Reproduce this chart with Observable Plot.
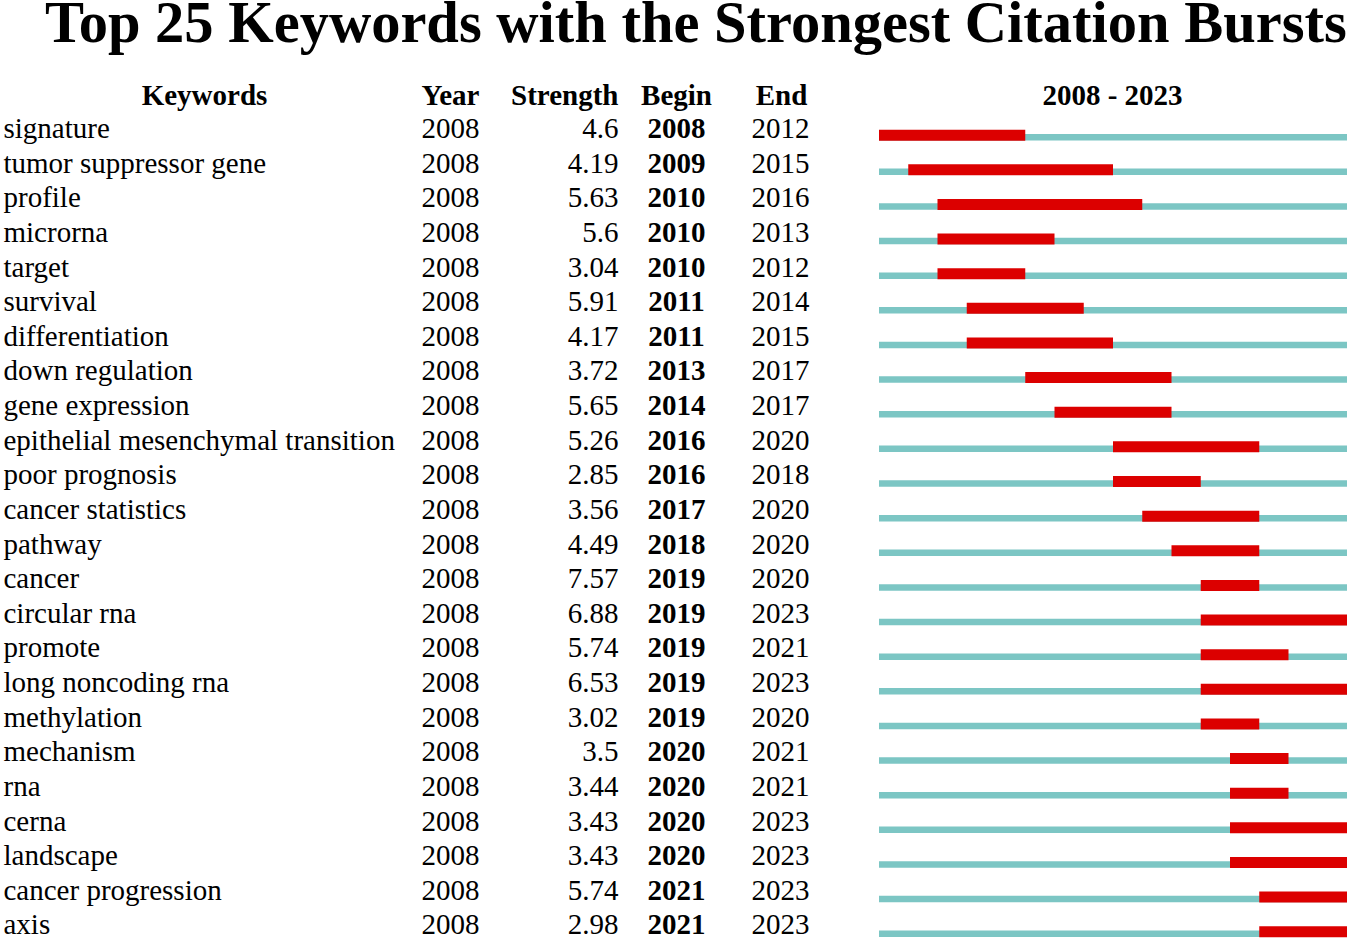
<!DOCTYPE html>
<html>
<head>
<meta charset="utf-8">
<script src="https://cdn.jsdelivr.net/npm/d3@7"></script>
<script src="https://cdn.jsdelivr.net/npm/@observablehq/plot@0.6"></script>
<style>
  html, body { margin: 0; padding: 0; background: #fff; }
  #title {
    font-family: "Liberation Serif", "Times New Roman", serif;
    font-weight: bold;
    font-size: 58.5px;
    line-height: 46px;
    height: 50px;
    padding-left: 45px;
    white-space: nowrap;
    color: #000;
  }
  #chart svg { display: block; }
</style>
</head>
<body>
<div id="title">Top 25 Keywords with the Strongest Citation Bursts</div>
<div id="chart"></div>
<script>
const keywords = ["signature","tumor suppressor gene","profile","microrna","target","survival","differentiation","down regulation","gene expression","epithelial mesenchymal transition","poor prognosis","cancer statistics","pathway","cancer","circular rna","promote","long noncoding rna","methylation","mechanism","rna","cerna","landscape","cancer progression","axis"];
const years = [2008,2008,2008,2008,2008,2008,2008,2008,2008,2008,2008,2008,2008,2008,2008,2008,2008,2008,2008,2008,2008,2008,2008,2008];
const strengths = ["4.6","4.19","5.63","5.6","3.04","5.91","4.17","3.72","5.65","5.26","2.85","3.56","4.49","7.57","6.88","5.74","6.53","3.02","3.5","3.44","3.43","3.43","5.74","2.98"];
const begins = [2008,2009,2010,2010,2010,2011,2011,2013,2014,2016,2016,2017,2018,2019,2019,2019,2019,2019,2020,2020,2020,2020,2021,2021];
const ends = [2012,2015,2016,2013,2012,2014,2015,2017,2017,2020,2018,2020,2020,2020,2023,2021,2023,2020,2021,2021,2023,2023,2023,2023];
const headers = ["Keywords","Year","Strength","Begin","End","2008 - 2023"];
const yearStart = 2008, yearEnd = 2023;

const data = keywords.map((k, i) => ({keyword: k, year: years[i], strength: strengths[i], begin: begins[i], end: ends[i]}));

const teal = "#7cc6c4", red = "#dc0000";
const fs = 29;

const headerMark = (label, dx, anchor) => Plot.text([label], {
  text: d => d, frameAnchor: "top-left", dx, dy: 45, textAnchor: anchor,
  lineAnchor: "middle", fontWeight: "bold", fontSize: fs, fill: "#000"
});

const chart = Plot.plot({
  width: 1350,
  height: 891,
  margin: 0,
  style: {fontFamily: "'Liberation Serif', 'Times New Roman', serif", fontSize: "29px", background: "#fff", color: "#000"},
  x: {domain: [yearStart, yearEnd + 1], range: [879, 1347], axis: null},
  y: {type: "point", domain: keywords, range: [78.2, 874.7], padding: 0, round: false, axis: null},
  marks: [
    headerMark(headers[0], 204, "middle"),
    headerMark(headers[1], 450, "middle"),
    headerMark(headers[2], 618, "end"),
    headerMark(headers[3], 676, "middle"),
    headerMark(headers[4], 781, "middle"),
    headerMark(headers[5], 1112, "middle"),
    Plot.text(data, {y: "keyword", text: "keyword", frameAnchor: "left", dx: 3, textAnchor: "start", lineAnchor: "middle", fontSize: fs, fill: "#000"}),
    Plot.text(data, {y: "keyword", text: d => String(d.year), frameAnchor: "left", dx: 450, textAnchor: "middle", lineAnchor: "middle", fontSize: fs, fill: "#000"}),
    Plot.text(data, {y: "keyword", text: "strength", frameAnchor: "left", dx: 618, textAnchor: "end", lineAnchor: "middle", fontSize: fs, fill: "#000"}),
    Plot.text(data, {y: "keyword", text: d => String(d.begin), frameAnchor: "left", dx: 676, textAnchor: "middle", lineAnchor: "middle", fontSize: fs, fontWeight: "bold", fill: "#000"}),
    Plot.text(data, {y: "keyword", text: d => String(d.end), frameAnchor: "left", dx: 780, textAnchor: "middle", lineAnchor: "middle", fontSize: fs, fill: "#000"}),
    Plot.ruleY(data, {y: "keyword", x1: d => yearStart, x2: d => yearEnd + 1, stroke: teal, strokeWidth: 6.5, dy: 8.5}),
    Plot.ruleY(data, {y: "keyword", x1: "begin", x2: d => d.end + 1, stroke: red, strokeWidth: 11, dy: 6.5})
  ]
});
document.getElementById("chart").appendChild(chart);
</script>
</body>
</html>
